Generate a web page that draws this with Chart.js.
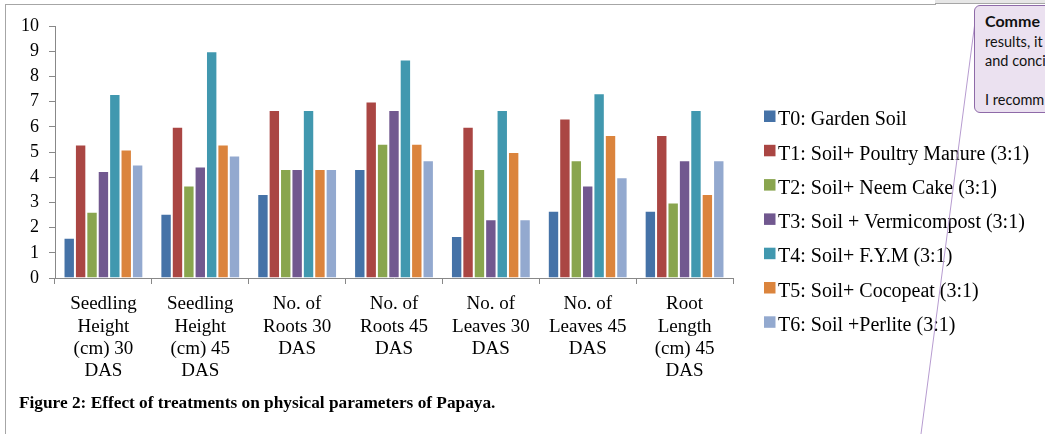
<!DOCTYPE html>
<html>
<head>
<meta charset="utf-8">
<script src="https://cdn.jsdelivr.net/npm/chart.js@4.4.0/dist/chart.umd.min.js"></script>
<style>
  html, body { margin: 0; padding: 0; background: #fff; }
  body { width: 1045px; height: 434px; position: relative; overflow: hidden; }
  #wrap { position: absolute; left: 0; top: 0; width: 1045px; height: 434px; }
  .frame { position: absolute; left: 5px; top: 4px; width: 930px; height: 440px;
           border-left: 1px solid #a6a6a6; border-top: 1px solid #a6a6a6; }
  .topband { position: absolute; left: 935px; top: 0; width: 110px; height: 3px;
             background: #e6e6e6; border-bottom: 1px solid #a6a6a6; }
  .caption { position: absolute; left: 19px; top: 393px; font: bold 17.3px 'Liberation Serif', serif; color: #000; white-space: nowrap; }
  .comment { position: absolute; left: 974px; top: 5px; width: 120px; height: 108px;
             border: 1px solid #8e6aa8; border-radius: 6px; background: #ebe1f0;
             font: 14.5px 'Lato', sans-serif; color: #111; line-height: 19.5px; padding: 5px 0 0 10px; box-sizing: border-box; }
  .comment b { font-weight: bold; font-size: 16px; }
  svg { position: absolute; left: 0; top: 0; }
</style>
</head>
<body>
<div class="frame"></div>
<div class="topband"></div>
<div id="wrap"><canvas id="myChart" width="1045" height="434"></canvas></div>
<div class="caption">Figure 2: Effect of treatments on physical parameters of Papaya.</div>
<svg width="1045" height="434"><line x1="975" y1="22" x2="921" y2="434" stroke="#b79cd0" stroke-width="1"/></svg>
<div class="comment"><b>Comme</b><br>results, it<br>and conci<br><br>I recomm</div>
<script>
const categories = [
  ['Seedling', 'Height', '(cm) 30', 'DAS'],
  ['Seedling', 'Height', '(cm) 45', 'DAS'],
  ['No. of', 'Roots 30', 'DAS'],
  ['No. of', 'Roots 45', 'DAS'],
  ['No. of', 'Leaves 30', 'DAS'],
  ['No. of', 'Leaves 45', 'DAS'],
  ['Root', 'Length', '(cm) 45', 'DAS'],
];

const t0 = [1.6, 2.55, 3.33, 4.33, 1.67, 2.67, 2.67];
const t1 = [5.3, 6.0, 6.67, 7.0, 6.0, 6.33, 5.67];
const t2 = [2.63, 3.67, 4.33, 5.33, 4.33, 4.67, 3.0];
const t3 = [4.25, 4.42, 4.33, 6.67, 2.33, 3.67, 4.67];
const t4 = [7.3, 9.0, 6.67, 8.67, 6.67, 7.33, 6.67];
const t5 = [5.1, 5.3, 4.33, 5.33, 5.0, 5.67, 3.33];
const t6 = [4.5, 4.86, 4.33, 4.67, 2.33, 4.0, 4.67];

const seriesNames = [
  'T0: Garden Soil',
  'T1: Soil+ Poultry Manure (3:1)',
  'T2: Soil+ Neem Cake (3:1)',
  'T3: Soil + Vermicompost (3:1)',
  'T4: Soil+ F.Y.M (3:1)',
  'T5: Soil+ Cocopeat (3:1)',
  'T6: Soil +Perlite (3:1)',
];
const colors = ['#4572A7', '#AA4643', '#89A54E', '#71588F', '#4198AF', '#DB843D', '#93A9CF'];
const series = [t0, t1, t2, t3, t4, t5, t6];

Chart.defaults.font.family = "'Liberation Serif', serif";
Chart.defaults.color = '#000';

// legend drawn to the right of the plot, Excel style
const sideLegend = {
  id: 'sideLegend',
  afterDraw(chart) {
    const ctx = chart.ctx;
    const x0 = chart.chartArea.right + 31;
    ctx.save();
    ctx.font = "20px 'Liberation Serif', serif";
    ctx.textBaseline = 'alphabetic';
    chart.data.datasets.forEach((ds, i) => {
      const cy = 116.5 + i * 34.3;
      ctx.fillStyle = ds.backgroundColor;
      ctx.fillRect(x0, cy - 6, 11.5, 11.5);
      ctx.fillStyle = '#000';
      ctx.fillText(ds.label, x0 + 14, cy + 8.7);
    });
    ctx.restore();
  }
};

const ctx = document.getElementById('myChart').getContext('2d');
const myChart = new Chart(ctx, {
  type: 'bar',
  data: {
    labels: categories,
    datasets: series.map((values, i) => ({
      label: seriesNames[i],
      data: values,
      backgroundColor: colors[i],
      borderColor: 'rgba(255,255,255,0.55)',
      borderWidth: 1,
      barPercentage: 1,
      categoryPercentage: 0.824,
    })),
  },
  options: {
    responsive: false,
    animation: false,
    layout: { padding: { left: 0, top: 26, right: 312, bottom: 0 } },
    plugins: {
      legend: { display: false },
      tooltip: { enabled: false },
    },
    scales: {
      x: {
        grid: { display: true, drawOnChartArea: false, color: '#888', tickLength: 6 },
        border: { color: '#888' },
        ticks: { font: { size: 19, lineHeight: 1.18 }, padding: 9, maxRotation: 0, autoSkip: false },
        afterFit: s => { s.height = 156; },
      },
      y: {
        min: 0,
        max: 10,
        grid: { display: true, drawOnChartArea: false, color: '#888', tickLength: 6 },
        border: { color: '#888' },
        ticks: { stepSize: 1, font: { size: 18 }, padding: 10 },
        afterFit: s => { s.width = 55; },
      },
    },
  },
  plugins: [sideLegend],
});
</script>
</body>
</html>
